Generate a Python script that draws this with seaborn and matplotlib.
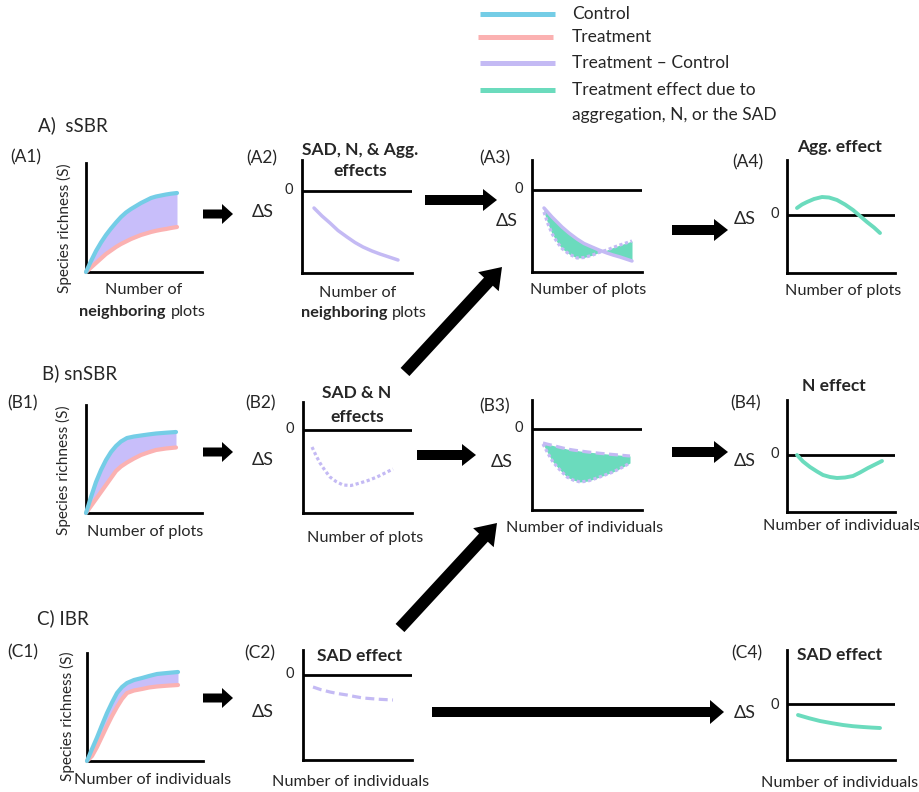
import numpy as np
import matplotlib
matplotlib.use("Agg")
import matplotlib.pyplot as plt
import seaborn as sns
from matplotlib.patches import FancyArrow

sns.set_theme(style="white")
plt.rcParams['font.family'] = ['Lato', 'DejaVu Sans']

CONTROL = "#74CDE6"
TREAT = "#FBB1B1"
DIFF = "#C4BAF4"
DIFF_FILL = "#C8BEFA"
EFFECT = "#6BDBBD"

# ---------------- data ----------------
a1_x = [0, 5, 10, 15, 20, 25, 30, 35, 40, 45, 50, 55, 60, 65, 70, 75, 80, 85, 91]
a1_control = [0, 11, 21, 29.5, 37, 43.5, 49.5, 55, 59.5, 63, 66, 69, 71.5, 74, 75.5, 76.5, 77.5, 78.3, 79]
a1_treatment = [0, 4.5, 9, 13.5, 18, 21.5, 25, 28, 30.5, 33, 35, 37, 38.5, 40, 41.2, 42.2, 43, 44, 45]

b1_x = [0, 5, 10, 15, 20, 25, 30, 35, 41, 48, 55, 62, 70, 80, 90]
b1_control = [0, 16, 31, 43, 53, 61, 67, 71.5, 75, 76.5, 77.5, 78.5, 79.5, 80.3, 81]
b1_treatment = [0, 7, 14, 21, 28, 35, 42, 46.5, 50.5, 54.5, 58, 60.5, 63, 64.5, 65.5]

c1_x = [0, 5, 10, 15, 20, 25, 30, 35, 40, 47, 55, 62, 70, 80, 91]
c1_control = [0, 12, 23.5, 36, 48, 58.5, 68, 74, 78, 81, 83, 85, 87, 88, 89]
c1_treatment = [0, 5, 14, 24.5, 35, 45, 54, 62, 68, 70.5, 72, 73.5, 74.5, 75.3, 76]

a2_x = [12, 20, 28, 36, 45, 53, 61, 70, 78, 87, 96]
a2_diff = [-17, -25, -32, -39.5, -46, -51.5, -56, -60, -63, -66, -69]

b2_x = [9, 13, 17, 22, 27, 33, 40, 48, 57, 65, 74, 82, 90]
b2_diff = [-17, -25.5, -33, -40.5, -47, -51.5, -55, -55.5, -53, -50.5, -47, -43, -39]

c2_x = [10, 18, 27, 35, 44, 52, 60, 75, 90]
c2_diff = [-12, -14.7, -17, -18.6, -20, -21.6, -23, -24.2, -25]

a3_x = [12, 16, 20, 25, 30, 37, 45, 52, 60, 67, 75, 81, 88, 94, 100]
a3_sbr = [-18, -22.5, -27, -32, -37, -43, -49, -53.5, -57, -60, -63, -65, -67, -69, -71]
a3_nsbr = [-22, -34, -43.5, -52, -58.5, -64, -68, -67.5, -65.3, -62.5, -60, -57.5, -55, -53, -51]

b3_x = [11, 16, 21, 28, 35, 41, 48, 56, 65, 73, 81, 90, 98]
b3_ibr = [-14, -15.3, -16.5, -18.3, -20, -21, -22, -23, -24, -24.8, -25.5, -26.3, -27]
b3_nsbr = [-15, -24.5, -33, -41, -48, -51, -53, -52, -49, -46, -43, -38.5, -34]

a4_x = [10, 15, 20, 27, 35, 42, 50, 58, 66, 73, 80, 87, 93]
a4_effect = [7, 10.5, 13, 16, 18, 17.5, 15, 10.5, 5, -1, -7, -12.5, -18]

b4_x = [10, 16, 23, 30, 36, 43, 50, 58, 66, 73, 81, 88, 95]
b4_effect = [0, -6.5, -12, -16.5, -20, -22, -23, -22.5, -21, -17.5, -13, -9.5, -6]

c4_x = [11, 22, 33, 45, 56, 66, 76, 85, 93]
c4_effect = [-11, -14.2, -17, -19.2, -21, -22.2, -23, -23.6, -24]

legend_labels = ["Control", "Treatment", "Treatment \u2013 Control",
                 "Treatment effect due to\naggregation, N, or the SAD"]

# ---------------- figure ----------------
W, H = 919, 792
fig = plt.figure(figsize=(W / 100, H / 100), dpi=100)
fig.patch.set_facecolor("white")

SPW = 2.0


def make_axes(L, T, R, B, Z=None):
    ax = fig.add_axes([L / W, 1 - B / H, (R - L) / W, (B - T) / H])
    ax.set_facecolor("none")
    for s in ["top", "right"]:
        ax.spines[s].set_visible(False)
    for s in ["left", "bottom"]:
        ax.spines[s].set_color("black")
        ax.spines[s].set_linewidth(SPW)
    ax.set_xticks([])
    ax.set_yticks([])
    ax.set_xlim(0, R - L)
    if Z is None:
        ax.set_ylim(0, B - T)
    else:
        ax.set_ylim(Z - B, Z - T)
        ax.axhline(0, color="black", lw=SPW, zorder=1)
    return ax


def line(ax, x, y, color, lw=2.8, ls="-"):
    sns.lineplot(x=x, y=y, ax=ax, color=color, linewidth=lw, linestyle=ls,
                 estimator=None, sort=False, clip_on=False, zorder=3)


DOT = (0, (1.0, 0.8))
DASH = (0, (2.8, 1.4))

# S panels
for box, x, c, t in [((86, 163, 202, 272), a1_x, a1_control, a1_treatment),
                     ((86, 405, 202, 513), b1_x, b1_control, b1_treatment),
                     ((87, 653, 203, 761), c1_x, c1_control, c1_treatment)]:
    ax = make_axes(*box)
    ax.fill_between(x, t, c, color=DIFF_FILL, lw=0, zorder=2)
    line(ax, x, t, TREAT, lw=3.0)
    line(ax, x, c, CONTROL, lw=3.0)

# delta-S panels
ax = make_axes(302, 160, 412, 273, 191)
line(ax, a2_x, a2_diff, DIFF, lw=2.5)

ax = make_axes(303, 402, 412, 513, 430)
line(ax, b2_x, b2_diff, DIFF, lw=2.3, ls=DOT)

ax = make_axes(303, 650, 412, 760, 675)
line(ax, c2_x, c2_diff, DIFF, lw=2.3, ls=DASH)

ax = make_axes(532, 160, 642, 272, 190)
ax.fill_between(a3_x, a3_sbr, a3_nsbr, color=EFFECT, lw=0, zorder=2)
line(ax, a3_x, a3_sbr, DIFF, lw=2.5)
line(ax, a3_x, a3_nsbr, DIFF, lw=2.3, ls=DOT)

ax = make_axes(532, 400, 642, 510, 429)
ax.fill_between(b3_x, b3_ibr, b3_nsbr, color=EFFECT, lw=0, zorder=2)
line(ax, b3_x, b3_ibr, DIFF, lw=2.3, ls=DASH)
line(ax, b3_x, b3_nsbr, DIFF, lw=2.3, ls=DOT)

ax = make_axes(787, 160, 895, 273, 215)
line(ax, a4_x, a4_effect, EFFECT, lw=2.8)

ax = make_axes(787, 400, 895, 512, 455)
line(ax, b4_x, b4_effect, EFFECT, lw=2.8)

ax = make_axes(787, 650, 895, 760, 704)
line(ax, c4_x, c4_effect, EFFECT, lw=2.8)

# ---------------- overlay: text, arrows, legend ----------------
ov = fig.add_axes([0, 0, 1, 1], zorder=10)
ov.set_xlim(0, W)
ov.set_ylim(H, 0)
ov.axis("off")
ov.patch.set_alpha(0)

FS = 11.7
FS_LEG = 12.5
FS_TITLE = 12.5
FS_PANEL = 12.5

# legend
for (lx0, lx1, ly), col in zip([(480, 555, 14), (478, 553, 37), (480, 555, 63), (480, 555, 90)],
                               [CONTROL, TREAT, DIFF, EFFECT]):
    ov.plot([lx0, lx1], [ly, ly], color=col, lw=3.6, solid_capstyle="butt")
ov.text(572, 14, legend_labels[0], ha="left", va="center", fontsize=FS_LEG)
ov.text(572, 37, legend_labels[1], ha="left", va="center", fontsize=FS_LEG)
ov.text(572, 63, legend_labels[2], ha="left", va="center", fontsize=FS_LEG)
l1, l2 = legend_labels[3].split("\n")
ov.text(572, 90, l1, ha="left", va="center", fontsize=FS_LEG)
ov.text(572, 115, l2, ha="left", va="center", fontsize=FS_LEG)

# section headers
for x, y, s in [(38, 125, "A)  sSBR"), (42, 373, "B) snSBR"), (37, 618, "C) IBR")]:
    ov.text(x, y, s, ha="left", va="center", fontsize=13.5)

# panel labels
for x, y, s in [(26, 157, "(A1)"), (23, 403, "(B1)"), (23, 652, "(C1)"),
                (262, 158, "(A2)"), (260, 403, "(B2)"), (260, 653, "(C2)"),
                (495, 158, "(A3)"), (495, 406, "(B3)"),
                (748, 162, "(A4)"), (746, 403, "(B4)"), (747, 653, "(C4)")]:
    ov.text(x, y, s, ha="center", va="center", fontsize=FS_PANEL)

# y labels
for x, y in [(64, 228), (63, 470), (67, 716)]:
    ov.text(x, y, "Species richness (S)", rotation=90, ha="center", va="center", fontsize=11)

# x labels
for x, y, s in [(144, 290, "Number of"), (358, 293, "Number of"),
                (145, 532, "Number of plots"), (153, 780, "Number of individuals"),
                (588, 290, "Number of plots"), (365, 538, "Number of plots"),
                (585, 528, "Number of individuals"), (351, 782, "Number of individuals"),
                (843, 291, "Number of plots"), (842, 526, "Number of individuals"),
                (840, 783, "Number of individuals")]:
    ov.text(x, y, s, ha="center", va="center", fontsize=FS)
for xb, xp, y in [(166, 171, 312), (387, 392, 313)]:
    ov.text(xb, y, "neighboring", ha="right", va="center", fontsize=FS, fontweight="bold")
    ov.text(xp, y, "plots", ha="left", va="center", fontsize=FS)

# titles
for x, y, s in [(360, 150, "SAD, N, & Agg."), (360, 171, "effects"),
                (357, 393, "SAD & N"), (357, 417, "effects"),
                (360, 656, "SAD effect"), (840, 147, "Agg. effect"),
                (834, 386, "N effect"), (840, 655, "SAD effect")]:
    ov.text(x, y, s, ha="center", va="center", fontsize=FS_TITLE, fontweight="bold")

# zero labels and delta S
for x, y in [(289, 190), (290, 429), (290, 674), (519, 189), (519, 428),
             (775, 214), (775, 454), (775, 705)]:
    ov.text(x, y, "0", ha="center", va="center", fontsize=10.5)
for x, y in [(263, 212), (263, 460), (263, 712), (507, 221), (502, 462),
             (745, 219), (745, 461), (745, 713)]:
    ov.text(x, y, "\u0394S", ha="center", va="center", fontsize=13)


# arrows
def arrow(x0, y0, x1, y1, w=9, hw=20, hl=11):
    dx, dy = x1 - x0, y1 - y0
    ov.add_patch(FancyArrow(x0, y0, dx, dy, width=w, head_width=hw, head_length=hl,
                            length_includes_head=True, color="black", lw=0))


arrow(203, 214, 233, 214)
arrow(203, 452, 233, 452)
arrow(203, 698, 233, 698)
arrow(425, 200, 497, 200, w=10, hw=22, hl=14)
arrow(417, 455, 476, 455, w=10, hw=22, hl=14)
arrow(672, 230, 728, 230, w=10, hw=22, hl=14)
arrow(672, 452, 728, 452, w=10, hw=22, hl=14)
arrow(432, 712, 724, 712, w=10, hw=24, hl=14)
arrow(405, 372, 502, 267, w=12, hw=28, hl=20)
arrow(400, 628, 497, 523, w=12, hw=28, hl=20)

fig.savefig("out.png", dpi=100)
